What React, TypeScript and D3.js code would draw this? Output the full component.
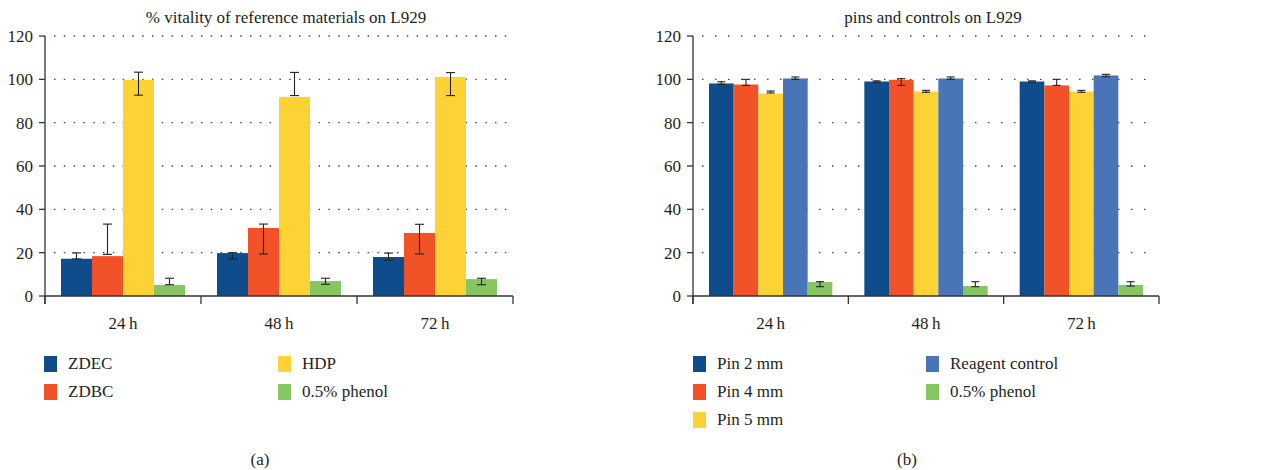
import React from 'react';
import * as d3 from 'd3';

// Two grouped bar charts (% vitality on L929), with error bars drawn from low/high bounds.

const times = ['24\u2009h', '48\u2009h', '72\u2009h'];
const yTicks = [0, 20, 40, 60, 80, 100, 120];

// (a) reference materials
const refSeries = ['ZDEC', 'ZDBC', 'HDP', '0.5% phenol'];
const refMean = [
  [17.2, 19.8, 18.0],
  [18.4, 31.4, 29.1],
  [99.8, 91.9, 101.1],
  [5.1, 6.9, 7.8],
];
const refLow = [
  [17.1, 17.1, 16.5],
  [19.2, 19.4, 19.4],
  [92.7, 92.5, 92.5],
  [5.2, 5.4, 5.2],
];
const refHigh = [
  [19.9, 20.0, 19.8],
  [33.2, 33.2, 33.1],
  [103.3, 103.2, 103.1],
  [8.2, 8.2, 8.2],
];

// (b) pins and controls
const pinSeries = ['Pin 2 mm', 'Pin 4 mm', 'Pin 5 mm', 'Reagent control', '0.5% phenol'];
const pinMean = [
  [98.1, 99.0, 99.0],
  [97.6, 99.8, 97.2],
  [93.4, 94.4, 94.4],
  [100.4, 100.4, 101.8],
  [6.5, 4.6, 5.1],
];
const pinLow = [
  [97.7, 98.7, 98.7],
  [97.2, 97.2, 97.2],
  [93.7, 94.0, 94.0],
  [100.0, 100.0, 101.2],
  [4.3, 4.3, 4.6],
];
const pinHigh = [
  [98.9, 99.3, 99.3],
  [100.0, 100.3, 100.0],
  [94.6, 94.9, 94.9],
  [101.1, 101.1, 102.3],
  [6.6, 6.6, 6.6],
];

const BLUE = '#0e4c8c';
const ORANGE = '#f15227';
const YELLOW = '#fcd234';
const GREEN = '#86c660';
const LIGHTBLUE = '#4a74b8';

const refColors = [BLUE, ORANGE, YELLOW, GREEN];
const pinColors = [BLUE, ORANGE, YELLOW, LIGHTBLUE, GREEN];

const TEXT = '#231f20';
const FONT = '"Liberation Serif", "Times New Roman", serif';

const y = d3.scaleLinear().domain([0, 120]).range([296, 36]);

type PanelProps = {
  left: number;
  right: number;
  title: string;
  series: string[];
  mean: number[][];
  low: number[][];
  high: number[][];
  colors: string[];
  capW: number;
  dash: string;
  legendX: [number, number];
  legendRows: number;
  sub: string;
  subX: number;
};

const Panel = ({ left, right, title, series, mean, low, high, colors, capW, dash, legendX, legendRows, sub, subX }: PanelProps) => {
  const x0 = d3.scaleBand().domain(times).range([left, right]);
  const bw = x0.bandwidth();
  const x1 = d3.scaleBand().domain(series).range([16, bw - 16]);
  const y0 = y(0);

  return (
    <g fontFamily={FONT} fill={TEXT}>
      <text x={(left + right) / 2 + 7} y={23} textAnchor="middle" fontSize={17}>{title}</text>

      {/* dotted gridlines */}
      {yTicks.filter(t => t > 0).map(t => (
        <line key={t} x1={left + 9} x2={right - 3} y1={y(t)} y2={y(t)}
          stroke="#444" strokeWidth={1.3} strokeDasharray={dash} />
      ))}

      {/* bars */}
      {times.map((t, ti) => (
        <g key={t} transform={`translate(${x0(t)},0)`}>
          {series.map((s, si) => {
            const bx = x1(s) as number;
            const v = mean[si][ti];
            return (
              <rect key={s} x={bx} y={y(v)} width={x1.bandwidth()} height={y0 - y(v)} fill={colors[si]} />
            );
          })}
          {series.map((s, si) => {
            const cx = (x1(s) as number) + x1.bandwidth() / 2;
            const lo = y(low[si][ti]);
            const hi = y(high[si][ti]);
            return (
              <g key={s} stroke="#222" strokeWidth={1.1}>
                <line x1={cx} x2={cx} y1={lo} y2={hi} />
                <line x1={cx - capW / 2} x2={cx + capW / 2} y1={lo} y2={lo} />
                <line x1={cx - capW / 2} x2={cx + capW / 2} y1={hi} y2={hi} />
              </g>
            );
          })}
        </g>
      ))}

      {/* y axis */}
      <line x1={left} x2={left} y1={y(120)} y2={y0 + 8} stroke="#333" strokeWidth={1.3} />
      {yTicks.map(t => (
        <g key={t}>
          <line x1={left - 6} x2={left} y1={y(t)} y2={y(t)} stroke="#333" strokeWidth={1.3} />
          <text x={left - 12} y={y(t) + 6} textAnchor="end" fontSize={17}>{t}</text>
        </g>
      ))}

      {/* x axis */}
      <line x1={left} x2={right} y1={y0} y2={y0} stroke="#333" strokeWidth={1.3} />
      {[...times.map(t => x0(t) as number), right].map((bx, i) => (
        <line key={i} x1={bx} x2={bx} y1={y0} y2={y0 + 8} stroke="#333" strokeWidth={1.3} />
      ))}
      {times.map(t => (
        <text key={t} x={(x0(t) as number) + bw / 2} y={329} textAnchor="middle" fontSize={17}>{t}</text>
      ))}

      {/* legend */}
      {series.map((s, i) => {
        const col = i < legendRows ? 0 : 1;
        const row = i < legendRows ? i : i - legendRows;
        const lx = legendX[col];
        const ly = 356 + row * 28;
        return (
          <g key={s}>
            <rect x={lx} y={ly} width={13} height={16} fill={colors[i]} />
            <text x={lx + 24} y={ly + 13} fontSize={17}>{s}</text>
          </g>
        );
      })}

      <text x={subX} y={465} textAnchor="middle" fontSize={17}>{sub}</text>
    </g>
  );
};

const App = () => (
  <svg width={1285} height={470} style={{ position: 'absolute', left: 0, top: 0, background: '#fff' }}>
    <rect width={1285} height={470} fill="#fff" />
    <Panel left={45} right={513} title="% vitality of reference materials on L929"
      series={refSeries} mean={refMean} low={refLow} high={refHigh} colors={refColors}
      capW={9} dash="1.5 8.3" legendX={[44, 278]} legendRows={2} sub="(a)" subX={260} />
    <Panel left={693} right={1159} title="pins and controls on L929"
      series={pinSeries} mean={pinMean} low={pinLow} high={pinHigh} colors={pinColors}
      capW={8} dash="1.5 11.5" legendX={[693, 926]} legendRows={3} sub="(b)" subX={907} />
  </svg>
);

export default App;
